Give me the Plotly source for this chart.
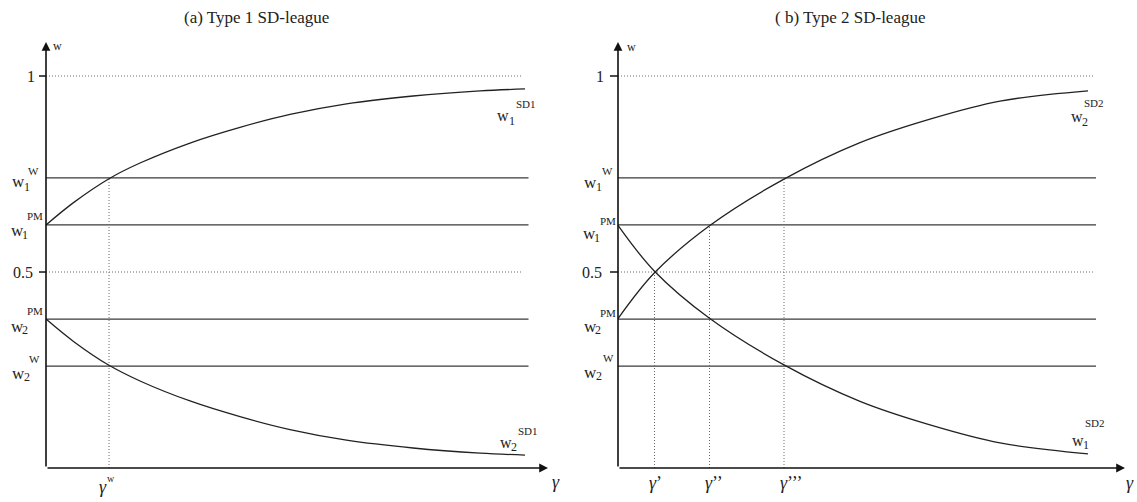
import plotly.graph_objects as go

# ---------------- data ----------------
titles = ["(a) Type 1 SD-league", "( b) Type 2 SD-league"]

level_one = 1.0
level_half = 0.5
w1_W = 0.74
w1_PM = 0.62
w2_PM = 0.38
w2_W = 0.26

gamma_w = 1.26
gamma_p1, gamma_p2, gamma_p3 = 0.73, 1.83, 3.32

sd1_x = [0, 0.55, 1.26, 1.88, 2.88, 3.88, 4.88, 6.01, 7.34, 8.68, 9.58]
sd1_w1 = [0.620, 0.677, 0.738, 0.778, 0.829, 0.869, 0.902, 0.929, 0.949, 0.962, 0.967]
sd1_w2 = [0.380, 0.323, 0.262, 0.222, 0.171, 0.131, 0.098, 0.071, 0.051, 0.038, 0.033]

sd2_x = [0, 0.73, 1.83, 3.32, 4.84, 6.24, 7.64, 9.40]
sd2_w2 = [0.381, 0.498, 0.618, 0.737, 0.830, 0.890, 0.936, 0.962]
sd2_w1 = [0.619, 0.502, 0.382, 0.263, 0.170, 0.110, 0.064, 0.036]

# panel extents (data units)
left_line_end, left_dot_end, left_arrow_x = 9.65, 9.54, 10.04
right_line_end, right_dot_end, right_arrow_x = 9.56, 9.52, 10.14
y_arrow = 1.087

FONT = "Liberation Serif"
INK = "#222222"
LINE = "#3a3a3a"
DOT = "#6a6a6a"

fig = go.Figure()


def seg(xa, x0, x1, y0, y1, color=LINE, width=1.3, dash="solid"):
    fig.add_trace(go.Scatter(x=[x0, x1], y=[y0, y1], mode="lines", xaxis=xa, yaxis="y",
                             line=dict(color=color, width=width, dash=dash),
                             hoverinfo="skip", showlegend=False))


def curve(xa, xs, ys):
    fig.add_trace(go.Scatter(x=xs, y=ys, mode="lines", xaxis=xa, yaxis="y",
                             line=dict(color=INK, width=1.3, shape="spline", smoothing=1.0),
                             hoverinfo="skip", showlegend=False))


def txt(xref, x, y, text, size, dx=0, dy=0, xanchor="center", yanchor="middle", italic=False):
    if italic:
        text = "<i>" + text + "</i>"
    fig.add_annotation(x=x, y=y, xref=xref, yref="y", text=text, showarrow=False,
                       xshift=dx, yshift=dy, xanchor=xanchor, yanchor=yanchor,
                       font=dict(family=FONT, size=size, color=INK))


def arrow(xref, x, y, ax, ay):
    fig.add_annotation(x=x, y=y, ax=ax, ay=ay, xref=xref, yref="y", axref=xref, ayref="y",
                       text="", showarrow=True, arrowhead=2, arrowsize=1.1,
                       arrowwidth=1.6, arrowcolor="#111111", standoff=0, startstandoff=0)


def wlabel(xref, x, y, sub, sup, wpos, subpos, suppos, size=17):
    txt(xref, x, y, "w", size, *wpos)
    txt(xref, x, y, sub, 12, *subpos)
    txt(xref, x, y, sup, 11, *suppos)


# ---------------- left panel ----------------
xa = "x"
seg(xa, 0, left_dot_end, level_one, level_one, DOT, 1, "1px,2px")
seg(xa, 0, left_dot_end, level_half, level_half, DOT, 1, "1px,2px")
for lv in [w1_W, w1_PM, w2_PM, w2_W]:
    seg(xa, 0, left_line_end, lv, lv)
seg(xa, gamma_w, gamma_w, 0, w1_W, DOT, 1, "1px,2px")
seg(xa, -0.14, 0, level_one, level_one, "#111111", 1.5)
seg(xa, -0.14, 0, level_half, level_half, "#111111", 1.5)
curve(xa, sd1_x, sd1_w1)
curve(xa, sd1_x, sd1_w2)
arrow(xa, 0, y_arrow, 0, 0)
arrow(xa, left_arrow_x, 0, 0, 0)

txt(xa, 4.2, 1.1505, titles[0], 17)
txt(xa, 0, y_arrow, "w", 12, 11, -4)
txt(xa, 0, level_one, "1", 16, -9, 0, xanchor="right")
txt(xa, 0, level_half, "0.5", 16, -11, 0, xanchor="right")
wlabel(xa, 0, w1_W, "1", "W", (-27.5, -4), (-19, -9), (-13, 7))
wlabel(xa, 0, w1_PM, "1", "PM", (-29, -6), (-21, -10), (-11, 9))
wlabel(xa, 0, w2_PM, "2", "PM", (-29, -7), (-21, -11), (-11, 8))
wlabel(xa, 0, w2_W, "2", "W", (-27.5, -7), (-19, -11), (-12, 7))
wlabel(xa, sd1_x[-1], sd1_w1[-1], "1", "SD1", (-22, -27), (-13, -32), (1, -15), 16)
wlabel(xa, sd1_x[-1], sd1_w2[-1], "2", "SD1", (-19, 13), (-11, 8), (3, 24), 16)
txt(xa, left_arrow_x, 0, "γ", 18, 8, -14, italic=True)
txt(xa, gamma_w, 0, "γ", 18, -6, -19, italic=True)
txt(xa, gamma_w, 0, "w", 10, 2, -10)

# ---------------- right panel ----------------
xa = "x2"
seg(xa, 0, right_dot_end, level_one, level_one, DOT, 1, "1px,2px")
seg(xa, 0, right_dot_end, level_half, level_half, DOT, 1, "1px,2px")
for lv in [w1_W, w1_PM, w2_PM, w2_W]:
    seg(xa, 0, right_line_end, lv, lv)
seg(xa, gamma_p1, gamma_p1, 0, level_half, DOT, 1, "1px,2px")
seg(xa, gamma_p2, gamma_p2, 0, w1_PM, DOT, 1, "1px,2px")
seg(xa, gamma_p3, gamma_p3, 0, w1_W, DOT, 1, "1px,2px")
seg(xa, -0.16, 0, level_one, level_one, "#111111", 1.5)
seg(xa, -0.16, 0, level_half, level_half, "#111111", 1.5)
curve(xa, sd2_x, sd2_w2)
curve(xa, sd2_x, sd2_w1)
arrow(xa, 0, y_arrow, 0, 0)
arrow(xa, right_arrow_x, 0, 0, 0)

txt(xa, 4.64, 1.1505, titles[1], 17)
txt(xa, 0, y_arrow, "w", 12, 13, -5)
txt(xa, 0, level_one, "1", 16, -12, 0, xanchor="right")
txt(xa, 0, level_half, "0.5", 16, -14, 0, xanchor="right")
wlabel(xa, 0, w1_W, "1", "W", (-28, -5), (-19, -9), (-11, 7))
wlabel(xa, 0, w1_PM, "1", "PM", (-29, -9), (-21, -13), (-10, 4))
wlabel(xa, 0, w2_PM, "2", "PM", (-28, -7), (-20, -11), (-10, 6))
wlabel(xa, 0, w2_W, "2", "W", (-28, -6), (-19, -10), (-10, 8))
wlabel(xa, sd2_x[-1], sd2_w2[-1], "2", "SD2", (-11, -26), (-3, -31), (6, -12), 16)
wlabel(xa, sd2_x[-1], sd2_w1[-1], "1", "SD2", (-10, 13), (-2, 9), (7, 31), 16)
txt(xa, right_arrow_x, 0, "γ", 18, 5, -15, italic=True)
txt(xa, gamma_p1, 0, "<i>γ</i>’", 18, -8, -15, xanchor="left")
txt(xa, gamma_p2, 0, "<i>γ</i>’’", 18, -7, -15, xanchor="left")
txt(xa, gamma_p3, 0, "<i>γ</i>’’’", 18, -6, -15, xanchor="left")

# ---------------- layout ----------------
fig.update_layout(
    width=1137, height=502,
    margin=dict(l=0, r=0, t=0, b=0),
    paper_bgcolor="white", plot_bgcolor="white",
    showlegend=False,
    xaxis=dict(domain=[0, 0.5], range=[-0.92, 10.45], visible=False, fixedrange=True),
    xaxis2=dict(domain=[0.5, 1], range=[-0.99, 10.38], visible=False, anchor="y", fixedrange=True),
    yaxis=dict(domain=[0, 1], range=[-0.0867, 1.1939], visible=False, fixedrange=True),
)

fig.write_html("out.html", config={"displayModeBar": False},
               post_script="document.body.style.margin='0';document.body.style.overflow='hidden';")
